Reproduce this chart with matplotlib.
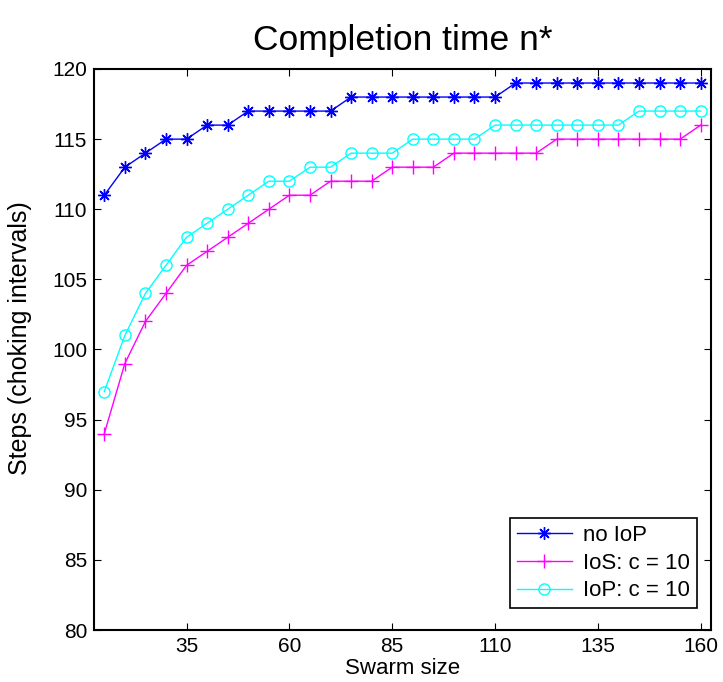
import matplotlib
matplotlib.use("Agg")
import matplotlib.pyplot as plt

plt.rcParams['font.family'] = ['Liberation Sans', 'DejaVu Sans']

swarm = list(range(15, 161, 5))
no_iop = [111, 113, 114, 115, 115, 116, 116, 117, 117, 117, 117, 117,
          118, 118, 118, 118, 118, 118, 118, 118,
          119, 119, 119, 119, 119, 119, 119, 119, 119, 119]
ios_c10 = [94, 99, 102, 104, 106, 107, 108, 109, 110, 111, 111, 112, 112, 112,
           113, 113, 113, 114, 114, 114, 114, 114, 115, 115, 115, 115, 115, 115,
           115, 116]
iop_c10 = [97, 101, 104, 106, 108, 109, 110, 111, 112, 112, 113, 113, 114, 114,
           114, 115, 115, 115, 115, 116, 116, 116, 116, 116, 116, 116, 117, 117,
           117, 117]

fig = plt.figure(figsize=(7.23, 6.82), dpi=100)
ax = fig.add_axes([94 / 723, 52 / 682, 617 / 723, 561 / 682])

# matlab-like asterisk (+ and x)
ax.plot(swarm, no_iop, color='blue', marker=(8, 2, 0), markersize=9, lw=1, label='no IoP')
ax.plot(swarm, ios_c10, color='magenta', marker='+', markersize=10, lw=1, label='IoS: c = 10')
ax.plot(swarm, iop_c10, color='cyan', marker='o', markersize=8, lw=1,
        markerfacecolor='none', label='IoP: c = 10')

ax.set_xlim(12.5, 162.5)
ax.set_ylim(80, 120)
ax.set_xticks([35, 60, 85, 110, 135, 160])
ax.set_yticks(range(80, 121, 5))
ax.tick_params(direction='in', top=True, right=True, labelsize=15, length=5, pad=5)
for s in ax.spines.values():
    s.set_linewidth(1.5)

ax.set_title('Completion time n*', fontsize=25.5, pad=14)
ax.set_xlabel('Swarm size', fontsize=16)
ax.xaxis.set_label_coords(0.5, -0.05)
ax.set_ylabel('Steps (choking intervals)', fontsize=18)
ax.yaxis.set_label_coords(-0.1, 0.52)

leg = ax.legend(loc='lower right', bbox_to_anchor=(0.977, 0.039), borderaxespad=0,
                fontsize=16, fancybox=False, edgecolor='black', framealpha=1,
                handlelength=2.5, borderpad=0.3, labelspacing=0.3, handletextpad=0.5)
leg.get_frame().set_linewidth(1.2)

fig.savefig('out.png', dpi=100)
